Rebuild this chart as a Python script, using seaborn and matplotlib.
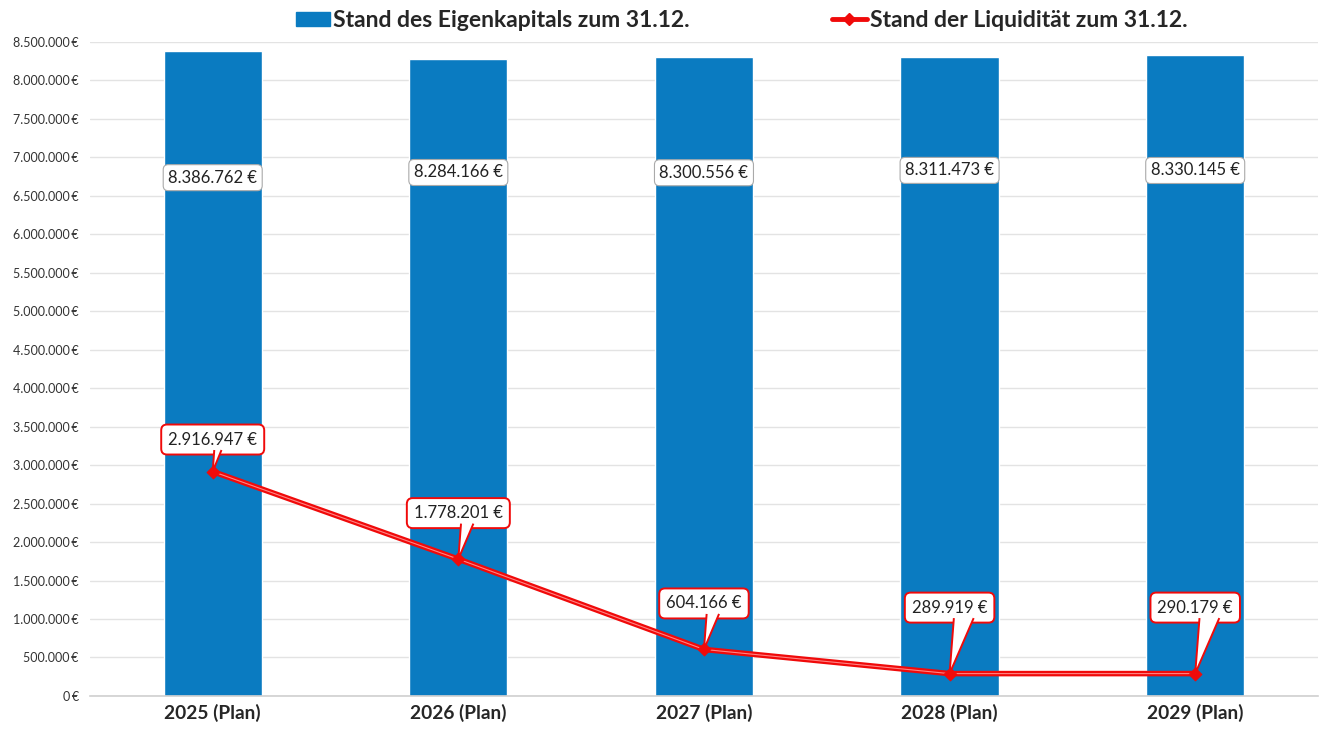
import matplotlib
matplotlib.use("Agg")
import matplotlib.pyplot as plt
import matplotlib.transforms as mtransforms
from matplotlib.lines import Line2D
from matplotlib.patches import Patch, Polygon
from matplotlib.ticker import FuncFormatter
import seaborn as sns
import pandas as pd

years = ["2025 (Plan)", "2026 (Plan)", "2027 (Plan)", "2028 (Plan)", "2029 (Plan)"]
eigenkapital = [8386762, 8284166, 8300556, 8311473, 8330145]
liquiditaet = [2916947, 1778201, 604166, 289919, 290179]
series_names = ["Stand des Eigenkapitals zum 31.12.", "Stand der Liquidität zum 31.12."]

BAR_BLUE = "#0A7BC1"
LINE_RED = "#F00A0A"


def euro(v):
    return f"{v:,.0f}".replace(",", ".") + " €"


sns.set_theme(style="white")
plt.rcParams["font.family"] = ["Lato", "DejaVu Sans"]

df = pd.DataFrame({"Jahr": years, "EK": eigenkapital, "Liq": liquiditaet})

fig = plt.figure(figsize=(13.22, 7.31), dpi=100)
ax = fig.add_axes([0.068, 0.048, 0.929, 0.8945])

sns.barplot(data=df, x="Jahr", y="EK", color=BAR_BLUE, width=0.4,
            saturation=1, ax=ax, zorder=2)

# liquidity line: red stroke with a faint lighter centre stripe
sns.lineplot(data=df, x="Jahr", y="Liq", sort=False, color=LINE_RED,
             linewidth=4, ax=ax, zorder=3)
sns.lineplot(data=df, x="Jahr", y="Liq", sort=False, color="#FF8585",
             linewidth=0.8, ax=ax, zorder=4)
sns.scatterplot(data=df, x="Jahr", y="Liq", marker="D", color=LINE_RED,
                s=45, edgecolor=LINE_RED, ax=ax, zorder=5)

ax.set_ylim(0, 8500000)
ax.set_xlim(-0.5, len(years) - 0.5)
ax.set_yticks(range(0, 8500001, 500000))
ax.yaxis.set_major_formatter(FuncFormatter(lambda v, p: f"{v:,.0f}".replace(",", ".") + "\u2009€"))
ax.grid(axis="y", color="#E3E3E3", linewidth=1, zorder=0)
ax.set_axisbelow(True)
for s in ["top", "right", "left"]:
    ax.spines[s].set_visible(False)
ax.spines["bottom"].set_color("#D0D0D0")
ax.spines["bottom"].set_linewidth(1.2)
ax.tick_params(axis="y", labelsize=9, colors="#333333", length=0, pad=8)
ax.tick_params(axis="x", labelsize=13.8, length=0, pad=6)
for t in ax.get_xticklabels():
    t.set_fontweight("bold")
ax.set_xlabel("")
ax.set_ylabel("")

# equity labels inside the bars
bar_label_drop = [1650000, 1480000, 1500000, 1480000, 1500000]
for i, (v, d) in enumerate(zip(eigenkapital, bar_label_drop)):
    ax.text(i, v - d, euro(v), ha="center", va="center", fontsize=12,
            color="#222222", zorder=6,
            bbox=dict(boxstyle="round,pad=0.3,rounding_size=0.3", fc="white",
                      ec="#AAAAAA", lw=0.8))

# liquidity callouts: rounded box plus a pointed tail down to the point
callout_rise = [32, 46, 46, 66, 66]
half_box = 12.5
for i, (v, r) in enumerate(zip(liquiditaet, callout_rise)):
    ax.annotate(euro(v), xy=(i, v), xytext=(0, r), textcoords="offset pixels",
                ha="center", va="center", fontsize=12, color="#222222",
                zorder=7,
                bbox=dict(boxstyle="round,pad=0.42,rounding_size=0.35", fc="white",
                          ec=LINE_RED, lw=1.4))
    tail_len = r - half_box
    base_y = tail_len + 2
    verts = [(0.08 * tail_len, base_y), (0, 0), (0.45 * tail_len, base_y)]
    anchor = mtransforms.ScaledTranslation(i, v, ax.transData)
    tail = Polygon(verts, closed=False, fc="white", ec=LINE_RED, lw=1.4,
                   joinstyle="miter", transform=mtransforms.Affine2D() + anchor,
                   zorder=8)
    ax.add_patch(tail)

handles = [
    Patch(facecolor=BAR_BLUE, edgecolor=BAR_BLUE),
    Line2D([0], [0], color=LINE_RED, lw=3.5, marker="D", markersize=6),
]
fig.legend(handles, series_names, loc="center", ncol=2,
           bbox_to_anchor=(0.561, 0.972), frameon=False,
           prop=dict(family="Lato", weight="bold", size=16.5),
           handlelength=1.5, handleheight=0.6, handletextpad=0.15,
           columnspacing=6.2)

fig.savefig("out.png", dpi=100)
